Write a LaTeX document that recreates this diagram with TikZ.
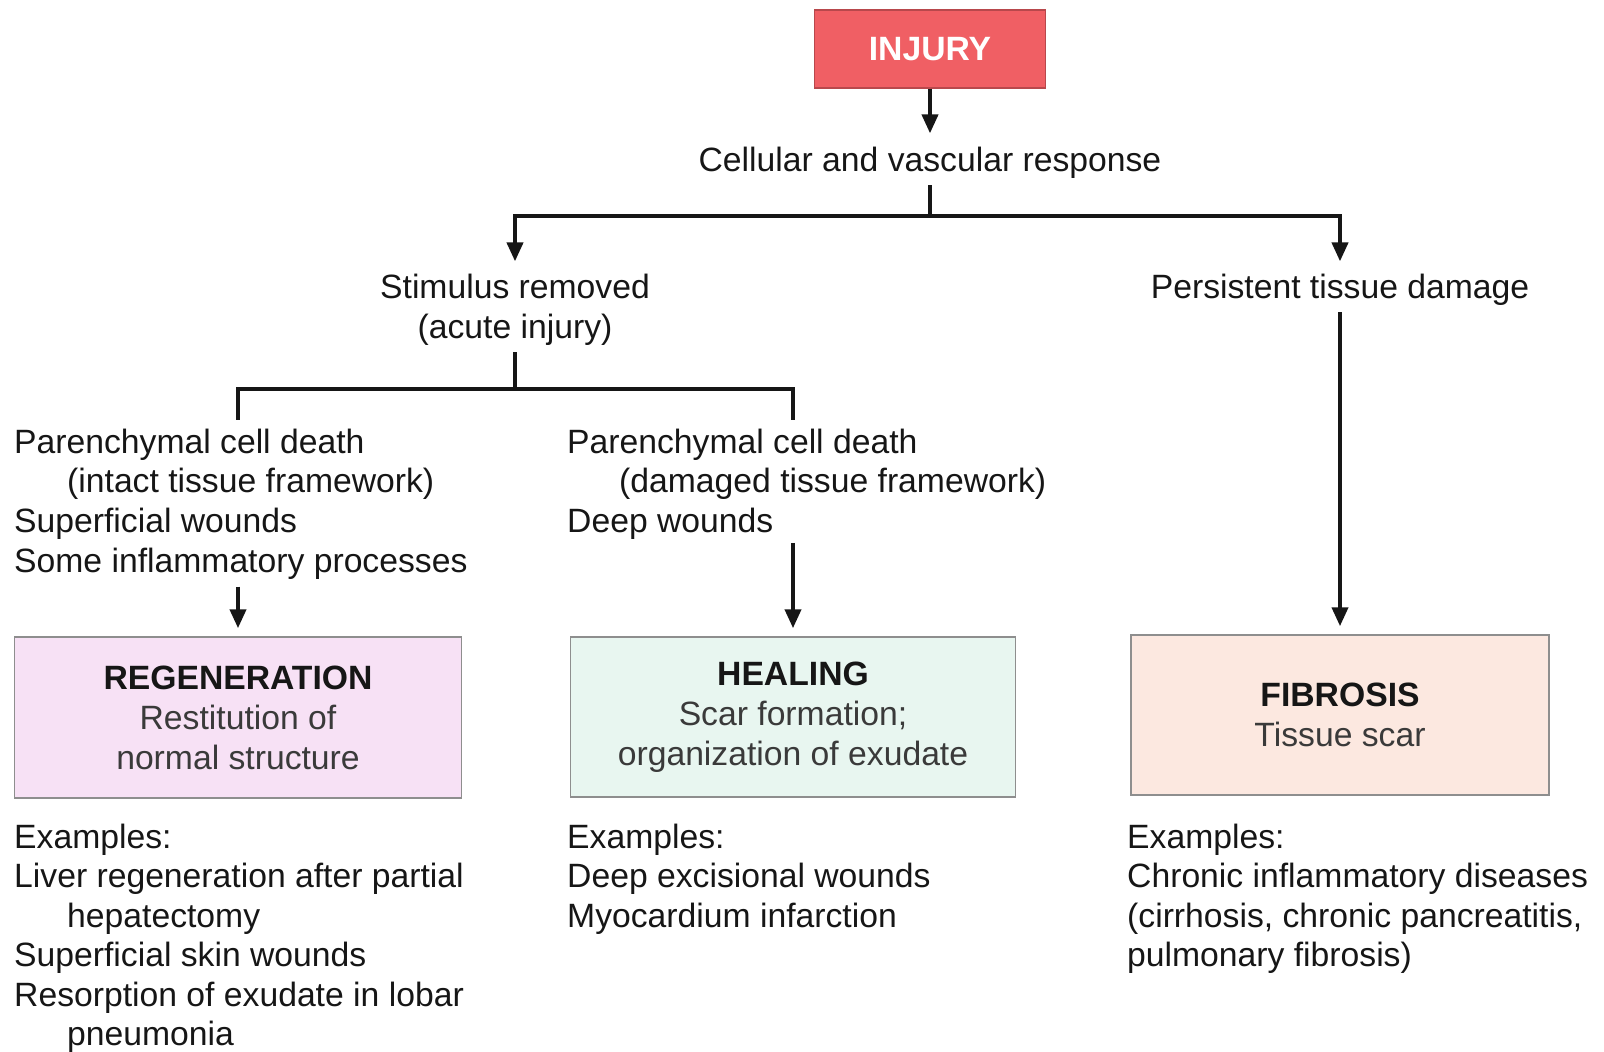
\documentclass[tikz,border=0pt]{standalone}
\usepackage{fontspec}
\setmainfont{Liberation Sans}
\usetikzlibrary{arrows.meta}
\definecolor{ink}{HTML}{161616}
\definecolor{subink}{HTML}{3A3A3A}
\definecolor{injuryred}{HTML}{F05F64}
\definecolor{injuryedge}{HTML}{B8484C}
\definecolor{regenfill}{HTML}{F7E1F5}
\definecolor{healfill}{HTML}{E8F6F0}
\definecolor{fibfill}{HTML}{FCE8E0}
\definecolor{boxedge}{HTML}{8E8E8E}
\begin{document}
\begin{tikzpicture}[x=1pt,y=-1pt,
  txt/.style={inner sep=0pt, font={\fontsize{33.7}{39.8}\selectfont}, text=ink},
  blocktxt/.style={txt, align=left, anchor=base west},
  extxt/.style={blocktxt, font={\fontsize{33.7}{39.5}\selectfont}},
  outbox/.style={draw=boxedge, line width=1.5pt, inner sep=0pt, align=center,
    font={\fontsize{33.7}{40}\selectfont}, text=subink},
  conn/.style={draw=ink, line width=4pt, line cap=rect},
  arr/.style={draw=ink, line width=4pt, -{Triangle[length=19pt,width=16pt]}},
]
\useasboundingbox (0,0) rectangle (1604,1052);

% top (multi-line nodes are placed by the baseline of their last line)
\node[draw=injuryedge, line width=1.2pt, fill=injuryred, minimum width=231pt, minimum height=78pt,
  inner sep=0pt, font={\fontsize{33.7}{39.2}\selectfont\bfseries}, text=white] (injury) at (930,49) {INJURY};
\node[txt, anchor=base] (cellular) at (930,171) {Cellular and vascular response};

\node[txt, anchor=base, align=center, font={\fontsize{33.7}{40}\selectfont}] (stim) at (515,338) {Stimulus removed\\(acute injury)};
\node[txt, anchor=base] (persist) at (1340,298) {Persistent tissue damage};

\node[blocktxt] (ltext) at (14,572.4) {Parenchymal cell death\\\hspace*{53pt}(intact tissue framework)\\Superficial wounds\\Some inflammatory processes};
\node[blocktxt] (mtext) at (567,532.6) {Parenchymal cell death\\\hspace*{52pt}(damaged tissue framework)\\Deep wounds};

% outcome boxes
\node[outbox, fill=regenfill, minimum width=447pt, minimum height=161pt] (regen) at (238,717.5)
  {{\color{ink}\bfseries REGENERATION}\\Restitution of\\normal structure};
\node[outbox, fill=healfill, minimum width=445pt, minimum height=160pt] (heal) at (793,717)
  {{\color{ink}\bfseries HEALING}\\Scar formation;\\organization of exudate};
\node[outbox, fill=fibfill, minimum width=418pt, minimum height=160pt] (fib) at (1340,715)
  {{\color{ink}\bfseries FIBROSIS}\\Tissue scar};

% examples
\node[extxt] (lex) at (14,1045.5) {Examples:\\Liver regeneration after partial\\\hspace*{53pt}hepatectomy\\Superficial skin wounds\\Resorption of exudate in lobar\\\hspace*{53pt}pneumonia};
\node[extxt] (mex) at (567,927) {Examples:\\Deep excisional wounds\\Myocardium infarction};
\node[extxt] (rex) at (1127,966.5) {Examples:\\Chronic inflammatory diseases\\(cirrhosis, chronic pancreatitis,\\pulmonary fibrosis)};

% junction coordinates
\coordinate (j1) at (930,216);
\coordinate (j1l) at (515,216);
\coordinate (j1r) at (1340,216);
\coordinate (j2) at (515,389);
\coordinate (j2l) at (238,389);
\coordinate (j2r) at (793,389);

% connectors
\draw[arr, shorten >=13pt] (injury.south) -- (cellular.north);
\draw[conn, shorten <=9pt] (cellular.south) -- (j1);
\draw[conn] (j1l) -- (j1r);
\draw[arr, shorten >=12pt] (j1l) -- (j1l |- stim.north);
\draw[arr, shorten >=12pt] (j1r) -- (j1r |- persist.north);

\draw[conn, shorten <=9pt] (stim.south) -- (j2);
\draw[conn] (j2l) -- (j2r);
\draw[conn, shorten >=10pt] (j2l) -- (j2l |- ltext.north);
\draw[conn, shorten >=10pt] (j2r) -- (j2r |- mtext.north);

\draw[arr, shorten <=7pt, shorten >=8pt] (ltext.south -| regen.north) -- (regen.north);
\draw[arr, shorten <=3pt, shorten >=8pt] (mtext.south -| heal.north) -- (heal.north);
\draw[arr, shorten <=7pt, shorten >=8pt] (persist.south) -- (fib.north);
\end{tikzpicture}
\end{document}
